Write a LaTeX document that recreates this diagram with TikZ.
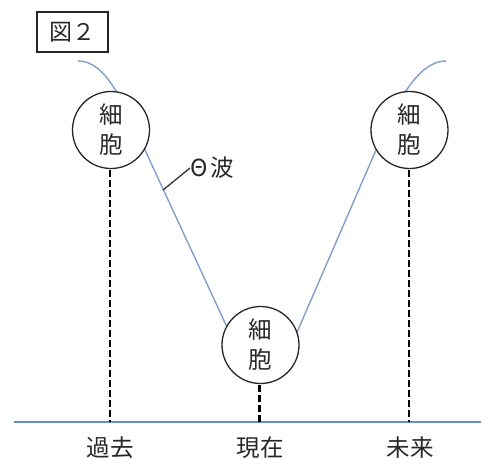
\documentclass[tikz,border=0pt]{standalone}
\usepackage{fontspec}
\newfontfamily\jp{Noto Sans CJK JP}
\definecolor{wave}{RGB}{128,158,206}
\definecolor{axisblue}{RGB}{100,140,210}
\definecolor{txt}{RGB}{40,40,40}
\begin{document}
\begin{tikzpicture}[x=1pt,y=-1pt,
  cell/.style={circle,draw=black!85,line width=1.3pt,fill=white,minimum size=77pt,inner sep=0pt,
    align=center,font=\jp\fontsize{23.5}{30}\selectfont,text=txt},
  lbl/.style={font=\jp\fontsize{23.5}{26}\selectfont,text=txt,inner sep=0pt},
  dashline/.style={black,line width=2.6pt,dash pattern=on 6.5pt off 3.5pt},
  wavel/.style={wave,line width=1.4pt}]
\useasboundingbox (0,0) rectangle (481,459);
% title box
\node[draw=black!85,line width=1.3pt,minimum width=71pt,minimum height=40pt,inner sep=0pt,
  font=\jp\fontsize{23}{26}\selectfont,text=txt] (fig) at (72.5,32) {図２};
% wave
\draw[wavel] (78,61) .. controls (105,61) and (121,97) .. (145,150)
  -- (226,325) .. controls (240,356) and (282,360) .. (298,330)
  -- (376,150) .. controls (399,96) and (420,61) .. (446,61);
% axis
\coordinate (ax0) at (14,422);
\coordinate (ax1) at (481,422);
\draw[axisblue,line width=1.5pt] (ax0) -- (ax1);
% cells
\node[cell] (L) at (111,130) {細\\胞};
\node[cell] (M) at (260.5,345) {細\\胞};
\node[cell] (R) at (409.5,130) {細\\胞};
% dashed lines
\draw[dashline] ([xshift=-1pt,yshift=-1pt]L.south) -- ([xshift=-1pt]L.south |- ax0);
\draw[dashline] ([xshift=-1pt,yshift=-1pt]M.south) -- ([xshift=-1pt]M.south |- ax0);
\draw[dashline] ([xshift=-0.5pt,yshift=-1pt]R.south) -- ([xshift=-0.5pt]R.south |- ax0);
% labels
\node[lbl] (past) at (110,448) {過去};
\node[lbl] (now) at (260,448) {現在};
\node[lbl] (fut) at (410,448) {未来};
% theta label
\node[lbl,anchor=west] (theta) at (190,168) {Θ\hspace{3pt}波};
\coordinate (wp) at (163,190);
\draw[black!80,line width=1.3pt] (wp) -- (theta.west);
\end{tikzpicture}
\end{document}
